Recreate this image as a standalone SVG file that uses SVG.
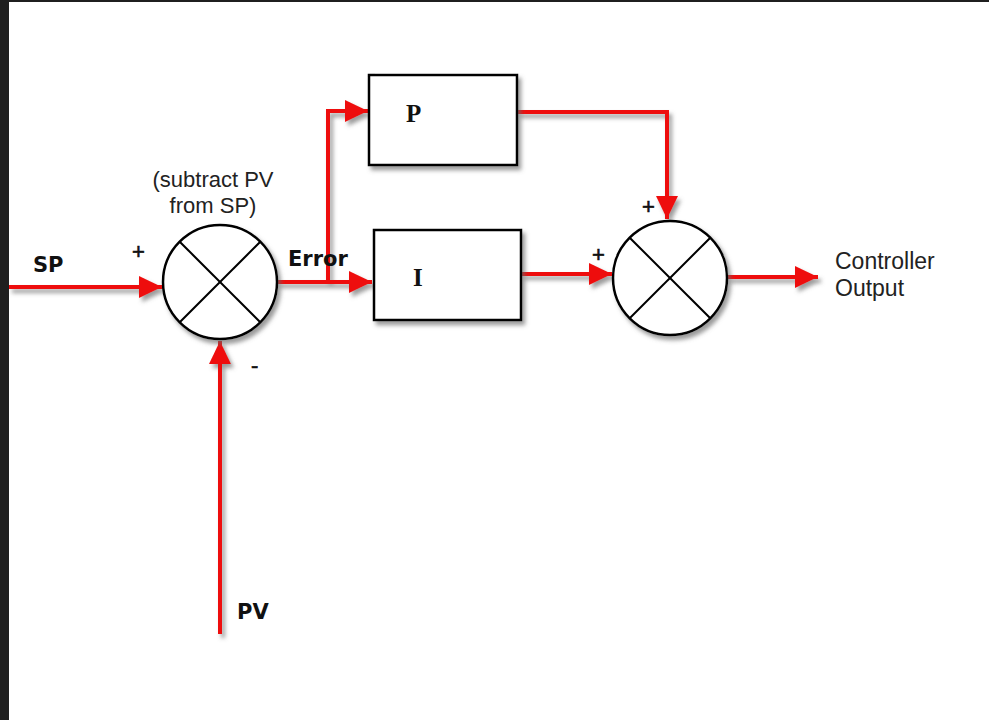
<svg xmlns="http://www.w3.org/2000/svg" width="989" height="720" viewBox="0 0 989 720">
  <style>
    .wire { fill: none; stroke: #ee1111; stroke-width: 4; }
    .box { fill: #ffffff; stroke: #000000; stroke-width: 2.5; }
    .sum { fill: #ffffff; stroke: #000000; stroke-width: 2.5; }
    .cross { stroke: #000000; stroke-width: 2; }
    .bold { font-family: "DejaVu Sans", sans-serif; font-weight: bold; font-size: 21px; fill: #111111; }
    .serif { font-family: "Liberation Serif", serif; font-weight: bold; font-size: 25px; fill: #111111; }
    .reg { font-family: "Liberation Sans", Arial, sans-serif; font-size: 22px; fill: #222222; }
    .out { font-family: "Liberation Sans", Arial, sans-serif; font-size: 23px; fill: #222222; }
    .sign { font-family: "Liberation Sans", Arial, sans-serif; font-size: 22px; fill: #111111; stroke: #111111; stroke-width: 0.6; }
  </style>
  <defs>
    <filter id="shadow" x="-20%" y="-20%" width="140%" height="140%">
      <feDropShadow dx="3" dy="4" stdDeviation="2.2" flood-color="#666666" flood-opacity="0.65"/>
    </filter>
    <marker id="arrow" markerUnits="userSpaceOnUse" markerWidth="24" markerHeight="22" refX="23" refY="11" orient="auto">
      <path d="M0,0 L23,11 L0,22 z" fill="#ee1111"/>
    </marker>
  </defs>

  <rect x="0" y="0" width="989" height="720" fill="#ffffff"/>
  <rect x="0" y="0" width="9" height="720" fill="#1f1f1f"/>
  <rect x="0" y="0" width="989" height="2" fill="#1f1f1f"/>

  <g id="connectors" filter="url(#shadow)">
    <path class="wire" d="M9,287 H162" marker-end="url(#arrow)"/>
    <path class="wire" d="M220,634 V341" marker-end="url(#arrow)"/>
    <path class="wire" d="M277,282 H372" marker-end="url(#arrow)"/>
    <path class="wire" d="M328,282 V111 H368" marker-end="url(#arrow)"/>
    <path class="wire" d="M517,112 H667 V219" marker-end="url(#arrow)"/>
    <path class="wire" d="M521,274 H612" marker-end="url(#arrow)"/>
    <path class="wire" d="M727,277 H818" marker-end="url(#arrow)"/>
  </g>

  <g id="sum1" filter="url(#shadow)">
    <circle class="sum" cx="220" cy="282" r="57"/>
    <line class="cross" x1="179.7" y1="241.7" x2="260.3" y2="322.3"/>
    <line class="cross" x1="260.3" y1="241.7" x2="179.7" y2="322.3"/>
  </g>

  <g id="sum2" filter="url(#shadow)">
    <circle class="sum" cx="670" cy="278" r="57"/>
    <line class="cross" x1="629.7" y1="237.7" x2="710.3" y2="318.3"/>
    <line class="cross" x1="710.3" y1="237.7" x2="629.7" y2="318.3"/>
  </g>

  <g id="P">
    <rect class="box" x="369" y="75" width="148" height="90" filter="url(#shadow)"/>
    <text class="serif" x="406" y="122">P</text>
  </g>

  <g id="I">
    <rect class="box" x="374" y="230" width="147" height="90" filter="url(#shadow)"/>
    <text class="serif" x="413" y="286">I</text>
  </g>

  <g id="labels">
    <text class="bold" x="33" y="272">SP</text>
    <text class="bold" x="288" y="266">Error</text>
    <text class="bold" x="237" y="619">PV</text>
    <text class="sign" x="132" y="259">+</text>
    <text class="sign" x="251" y="373">-</text>
    <text class="sign" x="642" y="214">+</text>
    <text class="sign" x="592" y="262">+</text>
    <text class="reg" x="213" y="187" text-anchor="middle">(subtract PV</text>
    <text class="reg" x="213" y="213" text-anchor="middle">from SP)</text>
    <text class="out" x="835" y="269">Controller</text>
    <text class="out" x="835" y="296">Output</text>
  </g>
</svg>
